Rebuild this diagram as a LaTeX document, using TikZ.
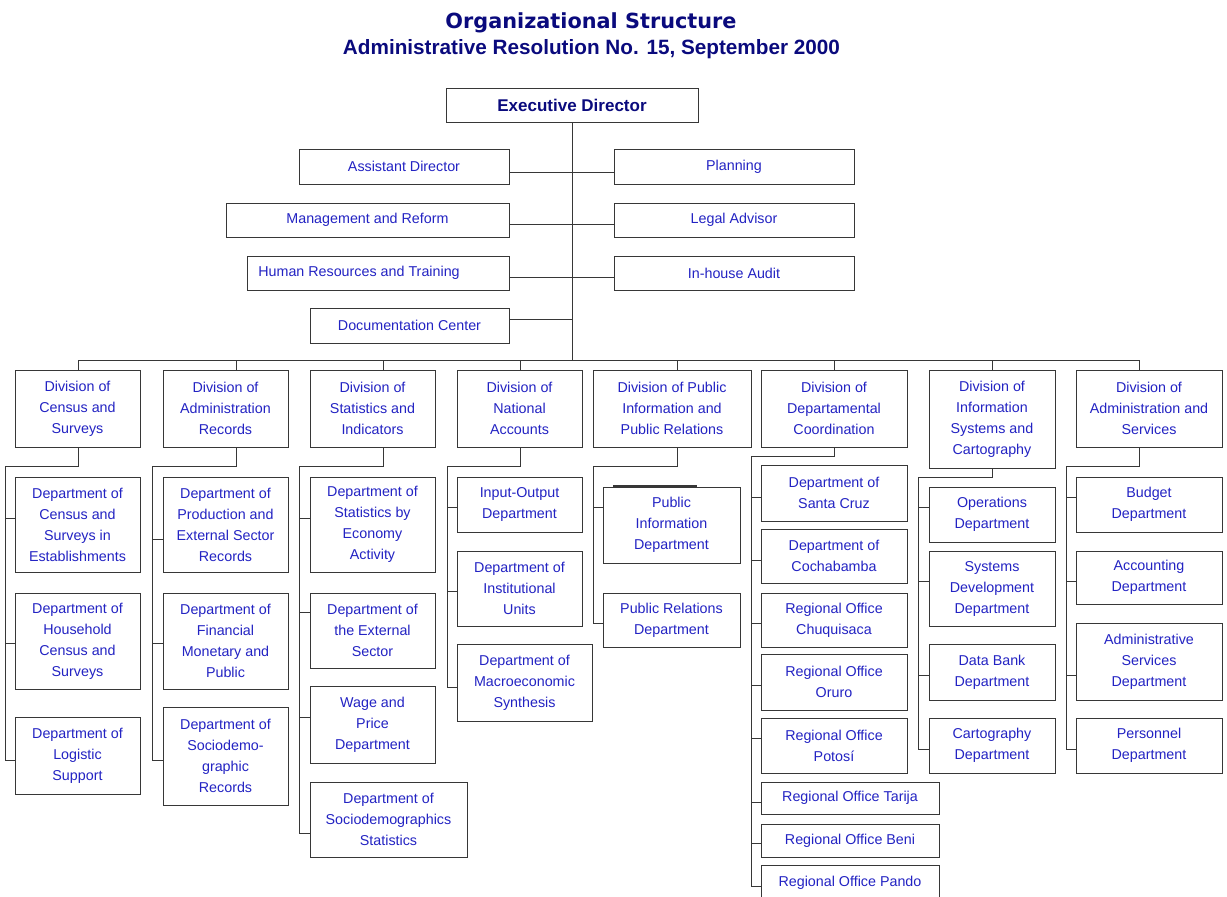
\documentclass[tikz,border=0pt]{standalone}
\usepackage{fontspec}
\setmainfont{Liberation Sans}
\newfontfamily\titlefont{DejaVu Sans}
\usepackage{graphicx}
\definecolor{txtblue}{RGB}{35,35,195}
\definecolor{navyblue}{RGB}{10,10,125}
\definecolor{edgegray}{RGB}{55,55,55}
\newcommand\orgbox[6]{\node[box,anchor=north west,minimum width={(#4-#2)*1pt},minimum height={(#5-#3)*1pt}] (#1) at (#2,#3) {#6};}
\newcommand\stub[3]{\draw[link] (#1.west |- 0,#2) -- (#3 |- 0,#2);}
\begin{document}
\begin{tikzpicture}[x=1pt,y=-1pt,
  box/.style={draw=edgegray,line width=1pt,fill=white,align=center,text=txtblue,inner sep=0pt,outer sep=0pt,font=\fontsize{14.3}{21}\selectfont},
  link/.style={draw=edgegray,line width=1pt}]
\useasboundingbox (0,0) rectangle (1227,897);

% titles
\node[anchor=base,text=navyblue,inner sep=0pt] (title) at (591,28) {\resizebox{291pt}{!}{\titlefont\bfseries Organizational Structure}};
\node[anchor=base,text=navyblue,inner sep=0pt] (subtitle) at (591.5,54) {\resizebox{497pt}{!}{\bfseries Administrative Resolution No. 15, September 2000}};

% executive
\node[box,anchor=north west,minimum width=252pt,minimum height=34pt,text=navyblue,font=\fontsize{17}{20}\selectfont\bfseries] (ed) at (446,88) {Executive Director};

% staff
\orgbox{ad}{299}{149}{509}{184}{Assistant Director}
\orgbox{mr}{226}{203}{509}{237}{Management and Reform}
\orgbox{hr}{247}{256}{509}{290}{Human Resources and Training\hspace*{38pt}}
\orgbox{dc}{310}{308}{509}{343}{Documentation Center}
\orgbox{pl}{614}{149}{854}{184}{Planning}
\orgbox{la}{614}{203}{854}{237}{Legal Advisor}
\orgbox{ia}{614}{256}{854}{290}{In-house Audit}

% bus coordinates
\coordinate (s1) at (78,360);
\coordinate (s2) at (236,360);
\coordinate (s3) at (383,360);
\coordinate (s4) at (520,360);
\coordinate (s5) at (677,360);
\coordinate (s6) at (834,360);
\coordinate (s7) at (992,360);
\coordinate (s8) at (1139,360);

\draw[link] (ed.south) -- (ed.south |- s1);
\draw[link] (s1) -- (s8);
\draw[link] (ad.east |- 0,172) -- (pl.west |- 0,172);
\draw[link] (mr.east |- 0,224) -- (la.west |- 0,224);
\draw[link] (hr.east |- 0,277) -- (ia.west |- 0,277);
\draw[link] (dc.east |- 0,319) -- (ed.south |- 0,319);

% divisions
\orgbox{d1}{15}{370}{140}{447}{Division of\\Census and\\Surveys}
\orgbox{d2}{163}{370}{288}{447}{Division of\\Administration\\Records}
\orgbox{d3}{310}{370}{435}{447}{Division of\\Statistics and\\Indicators}
\orgbox{d4}{457}{370}{582}{447}{Division of\\National\\Accounts}
\orgbox{d5}{593}{370}{751}{447}{Division of Public\\Information and\\Public Relations}
\orgbox{d6}{761}{370}{907}{447}{Division of\\Departamental\\Coordination}
\orgbox{d7}{929}{370}{1055}{468}{Division of\\Information\\Systems and\\Cartography}
\orgbox{d8}{1076}{370}{1222}{447}{Division of\\Administration and\\Services}

\foreach \i in {1,...,8} {\draw[link] (s\i) -- (s\i |- d\i.north);}

% spines
\coordinate (v1) at (5,466);
\coordinate (v2) at (152,466);
\coordinate (v3) at (299,466);
\coordinate (v4) at (447,466);
\coordinate (v5) at (593,466);
\coordinate (v6) at (751,456);
\coordinate (v7) at (918,477);
\coordinate (v8) at (1066,466);
\draw[link] (s1 |- d1.south) -- (s1 |- v1) -- (v1) -- (v1 |- 0,760);
\draw[link] (s2 |- d2.south) -- (s2 |- v2) -- (v2) -- (v2 |- 0,760);
\draw[link] (s3 |- d3.south) -- (s3 |- v3) -- (v3) -- (v3 |- 0,833);
\draw[link] (s4 |- d4.south) -- (s4 |- v4) -- (v4) -- (v4 |- 0,687);
\draw[link] (s5 |- d5.south) -- (s5 |- v5) -- (v5) -- (v5 |- 0,623);
\draw[link] (s6 |- d6.south) -- (s6 |- v6) -- (v6) -- (v6 |- 0,886);
\draw[link] (s7 |- d7.south) -- (s7 |- v7) -- (v7) -- (v7 |- 0,749);
\draw[link] (s8 |- d8.south) -- (s8 |- v8) -- (v8) -- (v8 |- 0,749);

% column 1
\orgbox{c11}{15}{477}{140}{572}{Department of\\Census and\\Surveys in\\Establishments}
\orgbox{c12}{15}{593}{140}{689}{Department of\\Household\\Census and\\Surveys}
\orgbox{c13}{15}{717}{140}{794}{Department of\\Logistic\\Support}
\stub{c11}{518}{v1}\stub{c12}{643}{v1}\stub{c13}{760}{v1}

% column 2
\orgbox{c21}{163}{477}{288}{572}{Department of\\Production and\\External Sector\\Records}
\orgbox{c22}{163}{593}{288}{689}{Department of\\Financial\\Monetary and\\Public}
\orgbox{c23}{163}{707}{288}{805}{Department of\\Sociodemo-\\graphic\\Records}
\stub{c21}{539}{v2}\stub{c22}{643}{v2}\stub{c23}{760}{v2}

% column 3
\orgbox{c31}{310}{477}{435}{572}{Department of\\Statistics by\\Economy\\Activity}
\orgbox{c32}{310}{593}{435}{668}{Department of\\the External\\Sector}
\orgbox{c33}{310}{686}{435}{763}{Wage and\\Price\\Department}
\orgbox{c34}{310}{782}{467}{857}{Department of\\Sociodemographics\\Statistics}
\stub{c31}{518}{v3}\stub{c32}{612}{v3}\stub{c33}{717}{v3}\stub{c34}{833}{v3}

% column 4
\orgbox{c41}{457}{477}{582}{532}{Input-Output\\Department}
\orgbox{c42}{457}{551}{582}{626}{Department of\\Institutional\\Units}
\orgbox{c43}{457}{644}{592}{721}{Department of\\Macroeconomic\\Synthesis}
\stub{c41}{507}{v4}\stub{c42}{591}{v4}\stub{c43}{687}{v4}

% column 5
\orgbox{c51}{603}{487}{740}{563}{Public\\Information\\Department}
\orgbox{c52}{603}{593}{740}{647}{Public Relations\\Department}
\stub{c51}{507}{v5}\stub{c52}{623}{v5}
\draw[link,line width=2pt] ([xshift=10pt,yshift=1.5pt]c51.north west) -- ([xshift=94pt,yshift=1.5pt]c51.north west);

% column 6
\orgbox{c61}{761}{465}{907}{521}{Department of\\Santa Cruz}
\orgbox{c62}{761}{529}{907}{583}{Department of\\Cochabamba}
\orgbox{c63}{761}{593}{907}{647}{Regional Office\\Chuquisaca}
\orgbox{c64}{761}{654}{907}{710}{Regional Office\\Oruro}
\orgbox{c65}{761}{718}{907}{773}{Regional Office\\Potosí}
\orgbox{c66}{761}{782}{939}{814}{Regional Office Tarija}
\orgbox{c67}{761}{824}{939}{857}{Regional Office Beni}
\orgbox{c68}{761}{865}{939}{901}{Regional Office Pando}
\stub{c61}{497}{v6}\stub{c62}{560}{v6}\stub{c63}{623}{v6}\stub{c64}{685}{v6}
\stub{c65}{738}{v6}\stub{c66}{802}{v6}\stub{c67}{843}{v6}\stub{c68}{886}{v6}

% column 7
\orgbox{c71}{929}{487}{1055}{542}{Operations\\Department}
\orgbox{c72}{929}{551}{1055}{626}{Systems\\Development\\Department}
\orgbox{c73}{929}{644}{1055}{700}{Data Bank\\Department}
\orgbox{c74}{929}{718}{1055}{773}{Cartography\\Department}
\stub{c71}{507}{v7}\stub{c72}{581}{v7}\stub{c73}{675}{v7}\stub{c74}{749}{v7}

% column 8
\orgbox{c81}{1076}{477}{1222}{532}{Budget\\Department}
\orgbox{c82}{1076}{551}{1222}{604}{Accounting\\Department}
\orgbox{c83}{1076}{623}{1222}{700}{Administrative\\Services\\Department}
\orgbox{c84}{1076}{718}{1222}{773}{Personnel\\Department}
\stub{c81}{497}{v8}\stub{c82}{581}{v8}\stub{c83}{675}{v8}\stub{c84}{749}{v8}
\end{tikzpicture}
\end{document}
